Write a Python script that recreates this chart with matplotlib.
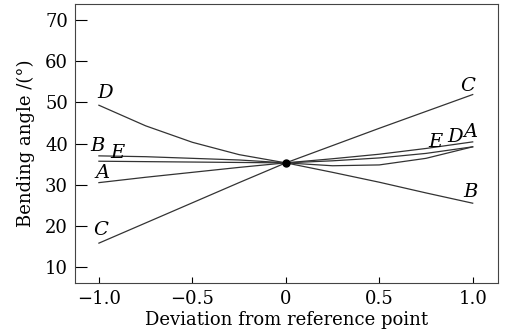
import matplotlib
matplotlib.use("Agg")
import matplotlib.pyplot as plt

# deviation from reference point
x = [-1.0, -0.75, -0.5, -0.25, 0.0, 0.25, 0.5, 0.75, 1.0]

# bending angle (deg) for each curve
curve_A = [30.5, 31.8, 33.0, 34.2, 35.3, 36.3, 37.4, 38.8, 40.4]
curve_B = [37.0, 36.8, 36.4, 36.0, 35.3, 33.0, 30.6, 28.0, 25.5]
curve_C = [15.8, 20.7, 25.6, 30.5, 35.3, 39.5, 43.7, 47.8, 51.9]
curve_D = [49.3, 44.3, 40.3, 37.3, 35.3, 34.6, 34.8, 36.4, 39.2]
curve_E = [35.7, 35.6, 35.5, 35.4, 35.3, 35.8, 36.5, 37.6, 39.2]

ref_x, ref_y = 0.0, 35.3

# curve labels: (text, x, y)
labels = [
    ("D", -0.965, 52.2), ("B", -1.005, 39.4), ("E", -0.90, 37.7),
    ("A", -0.98, 32.9), ("C", -0.99, 19.0),
    ("C", 0.975, 53.9), ("E", 0.80, 40.4), ("D", 0.905, 41.5),
    ("A", 0.99, 42.8), ("B", 0.99, 28.3),
]

plt.rcParams['font.family'] = ['DejaVu Serif']

fig = plt.figure(figsize=(5.05, 3.33), dpi=100)
ax = fig.add_axes([0.1485, 0.15, 0.8375, 0.838])

for y in [curve_A, curve_B, curve_C, curve_D, curve_E]:
    ax.plot(x, y, color='#333333', lw=0.9)
ax.plot(ref_x, ref_y, 'o', color='black', ms=5)

for txt, lx, ly in labels:
    ax.text(lx, ly, txt, fontsize=14, fontstyle='italic', ha='center', va='center')

ax.set_xlim(-1.128, 1.135)
ax.set_ylim(6.1, 73.9)
ax.set_xticks([-1.0, -0.5, 0, 0.5, 1.0])
ax.set_xticklabels(['\u22121.0', '\u22120.5', '0', '0.5', '1.0'])
ax.set_yticks([10, 20, 30, 40, 50, 60, 70])
ax.tick_params(axis='y', direction='in', length=8.5, width=0.8, labelsize=13, pad=5)
ax.tick_params(axis='x', direction='in', length=4.5, width=0.8, labelsize=13, pad=5)
for s in ax.spines.values():
    s.set_linewidth(0.8)
    s.set_color('#444444')

ax.set_xlabel('Deviation from reference point', fontsize=13, labelpad=2)
ax.set_ylabel('Bending angle /(\u00b0)', fontsize=13, labelpad=7)

fig.savefig('out.png', dpi=100)
